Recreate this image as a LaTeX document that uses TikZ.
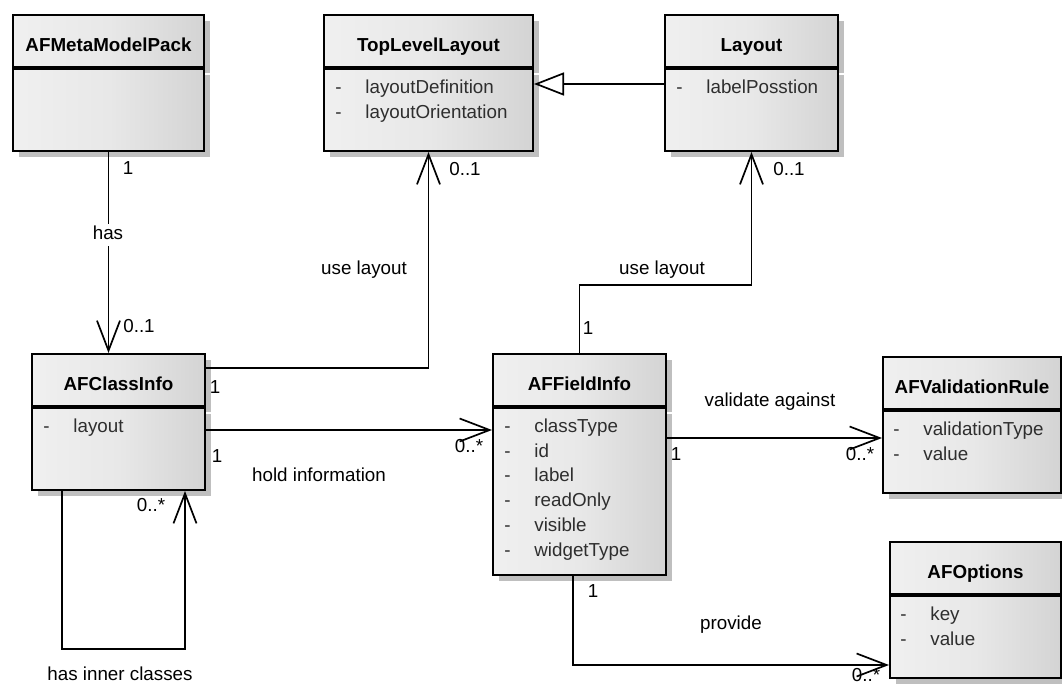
\documentclass[tikz,border=0pt]{standalone}
\usepackage{fontspec}
\setmainfont{Liberation Sans}
\usetikzlibrary{positioning,arrows.meta,shadows}

\newcommand{\attrs}[1]{\begin{tabular}[t]{@{}p{15pt}@{}l@{}}#1\end{tabular}}

\begin{document}
\begin{tikzpicture}[x=0.5pt, y=-0.5pt,
  font=\fontsize{9.4pt}{12.35pt}\selectfont,
  box/.style={draw, line width=1pt, left color=gray!12, right color=gray!34, middle color=gray!18,
    drop shadow={shadow xshift=3pt, shadow yshift=-3pt, fill=gray!50, opacity=1}},
  cls/.style={box, anchor=north west, inner ysep=0pt, text height=18pt, text depth=8pt,
    font=\fontsize{9.4pt}{12.35pt}\selectfont\bfseries},
  body/.style={box, minimum height=41pt},
  attr/.style={anchor=base west, inner sep=0pt, text=black!82},
  lbl/.style={inner sep=1pt, text height=6.7pt, text depth=1.9pt},
  assoc/.style={line width=0.85pt, -{Straight Barb[length=15pt, width=11.5pt]}},
  inherit/.style={line width=0.85pt, -{Triangle[fill=white, length=15pt, width=11.5pt]}}]
\useasboundingbox (0,0) rectangle (1062,686);

% classes
\node[cls, minimum width=95.5pt] (meta) at (12,14) {AFMetaModelPack};
\node[body, minimum width=95.5pt, below=0pt of meta] (metabody) {};

\node[cls, minimum width=104.5pt] (toplevel) at (323,14) {TopLevelLayout};
\node[body, minimum width=104.5pt, below=0pt of toplevel] (toplevelbody) {};
\node[attr] (toplevelattr) at ([shift={(6pt,-12.75pt)}]toplevelbody.north west)
  {\attrs{- & layoutDefinition\\ - & layoutOrientation}};

\node[cls, minimum width=86.5pt] (layout) at (664,14) {Layout};
\node[body, minimum width=86.5pt, below=0pt of layout] (layoutbody) {};
\node[attr] (layoutattr) at ([shift={(6pt,-12.75pt)}]layoutbody.north west)
  {\attrs{- & labelPosstion}};

\node[cls, minimum width=86.5pt] (classinfo) at (31,353) {AFClassInfo};
\node[body, minimum width=86.5pt, below=0pt of classinfo] (classinfobody) {};
\node[attr] (classinfoattr) at ([shift={(6pt,-12.75pt)}]classinfobody.north west)
  {\attrs{- & layout}};

\node[cls, minimum width=86.5pt] (fieldinfo) at (492,353) {AFFieldInfo};
\node[body, minimum width=86.5pt, minimum height=83.5pt, below=0pt of fieldinfo] (fieldinfobody) {};
\node[attr] (fieldinfoattr) at ([shift={(6pt,-12.75pt)}]fieldinfobody.north west)
  {\attrs{- & classType\\ - & id\\ - & label\\ - & readOnly\\ - & visible\\ - & widgetType}};

\node[cls, minimum width=89pt] (rule) at (882,356) {AFValidationRule};
\node[body, minimum width=89pt, below=0pt of rule] (rulebody) {};
\node[attr] (ruleattr) at ([shift={(5.5pt,-12.75pt)}]rulebody.north west)
  {\attrs{- & validationType\\ - & value}};

\node[cls, minimum width=85.5pt] (options) at (889,541) {AFOptions};
\node[body, minimum width=85.5pt, below=0pt of options] (optionsbody) {};
\node[attr] (optionsattr) at ([shift={(5.5pt,-12.75pt)}]optionsbody.north west)
  {\attrs{- & key\\ - & value}};

% connectors
\coordinate (genstart) at ([yshift=-8pt]layoutbody.north west);
\coordinate (holdstart) at ([yshift=-11.5pt]classinfobody.north east);
\coordinate (valstart) at ([yshift=-15.5pt]fieldinfobody.north east);
\coordinate (provend) at ([yshift=-14pt]optionsbody.west);

\draw[inherit] (genstart) -- (genstart -| toplevelbody.east);
\draw[assoc] (metabody.south) -- (metabody.south |- classinfo.north);
\draw[assoc] ([yshift=-7.5pt]classinfo.north east) -| (toplevelbody.south);
\draw[assoc] (holdstart) -- (holdstart -| fieldinfobody.west);
\draw[assoc] ([xshift=15.5pt]classinfobody.south west) -- ++(0,158) -| ([xshift=-10.5pt]classinfobody.south east);
\draw[assoc] (fieldinfo.north) -- ++(0,-68) -| (layoutbody.south);
\draw[assoc] (valstart) -- (valstart -| rulebody.west);
\draw[assoc] ([xshift=-3.25pt]fieldinfobody.south) |- (provend);

% labels
\node[lbl] (metaone) at (128,170) {1};
\node[lbl, fill=white] (haslbl) at (108,235) {has};
\node[lbl] (metamult) at (139,328) {0..1};
\node[lbl] (uselayoutl) at (364,270) {use layout};
\node[lbl] (topmult) at (465,171) {0..1};
\node[lbl] (classtopone) at (215,389) {1};
\node[lbl] (classholdone) at (217,458) {1};
\node[lbl] (holdlbl) at (319,477) {hold information};
\node[lbl] (holdmult) at (469,448) {0..*};
\node[lbl] (selfmult) at (151,507) {0..*};
\node[lbl] (selflbl) at (120,676) {has inner classes};
\node[lbl] (fieldtopone) at (588,330) {1};
\node[lbl] (uselayoutr) at (662,270) {use layout};
\node[lbl] (layoutmult) at (789,171) {0..1};
\node[lbl] (validlbl) at (770,402) {validate against};
\node[lbl] (validone) at (676,456) {1};
\node[lbl] (validmult) at (860,456) {0..*};
\node[lbl] (provone) at (593,593) {1};
\node[lbl] (provlbl) at (731,625) {provide};
\node[lbl] (provmult) at (866,677) {0..*};
\end{tikzpicture}
\end{document}
